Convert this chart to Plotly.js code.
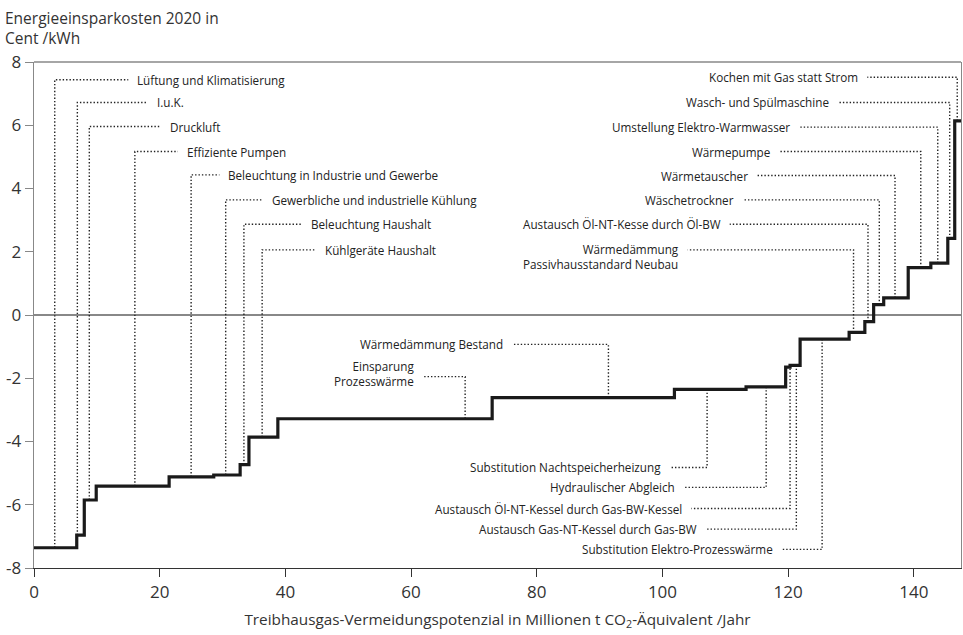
<!DOCTYPE html>
<html>
<head>
<meta charset="utf-8">
<script src="https://cdn.plot.ly/plotly-3.0.1.min.js"></script>
<style>html,body{margin:0;padding:0;background:#fff;}#chart{width:963px;height:635px;}</style>
</head>
<body>
<div id="chart"></div>
<script>
// ---- data: step curve (start of each measure on x, cost on y) ----
const stepStartX = [0, 6.8, 8.0, 9.9, 21.5, 28.6, 32.8, 34.2, 38.8, 72.9, 101.9, 113.3, 119.6, 120.3, 121.9, 129.7, 132.2, 133.6, 135.2, 139.1, 142.7, 145.4, 146.5];
const stepCost   = [-7.36, -6.96, -5.85, -5.41, -5.12, -5.06, -4.73, -3.86, -3.28, -2.61, -2.35, -2.27, -1.65, -1.59, -0.76, -0.55, -0.21, 0.33, 0.54, 1.50, 1.64, 2.42, 6.14];
const stepEndX = 147.5;

// ---- data: measure labels ----
const labelText = [
  "Lüftung und Klimatisierung", "I.u.K.", "Druckluft", "Effiziente Pumpen",
  "Beleuchtung in Industrie und Gewerbe", "Gewerbliche und industrielle Kühlung",
  "Beleuchtung Haushalt", "Kühlgeräte Haushalt",
  "Wärmedämmung Bestand", "Einsparung<br>Prozesswärme",
  "Substitution Nachtspeicherheizung", "Hydraulischer Abgleich",
  "Austausch Öl-NT-Kessel durch Gas-BW-Kessel", "Austausch Gas-NT-Kessel durch Gas-BW",
  "Substitution Elektro-Prozesswärme",
  "Kochen mit Gas statt Strom", "Wasch- und Spülmaschine", "Umstellung Elektro-Warmwasser",
  "Wärmepumpe", "Wärmetauscher", "Wäschetrockner", "Austausch Öl-NT-Kesse durch Öl-BW",
  "Wärmedämmung<br>Passivhausstandard Neubau"
];
const labelMeasureX = [3.3, 6.9, 8.8, 16.05, 25.0, 30.5, 33.4, 36.3, 91.4, 68.6, 107.1, 116.5, 120.3, 121.3, 125.4, 146.9, 145.7, 143.8, 141.1, 137.0, 134.5, 132.7, 130.4];
const labelLevelY   = [7.44, 6.72, 5.96, 5.17, 4.43, 3.64, 2.87, 2.06, -0.93, -1.95, -4.82, -5.45, -6.12, -6.77, -7.41, 7.52, 6.72, 5.94, 5.17, 4.41, 3.64, 2.87, 2.06];
const labelLeaderEndX = [15.0, 18.1, 20.2, 22.9, 29.5, 36.5, 42.6, 44.9, 76.1, 61.9, 101.2, 103.4, 104.6, 107.0, 119.0, 132.6, 127.9, 121.7, 118.5, 115.0, 112.8, 110.7, 104.0];

// ---- tick labels ----
const xTickVals = [0, 20, 40, 60, 80, 100, 120, 140];
const yTickVals = [-8, -6, -4, -2, 0, 2, 4, 6, 8];
const yTickText = ["-8", "-6", "-4", "-2", "0", "2", "4", "6", "8"];

// ---- build ----
const stepX = stepStartX.concat([stepEndX]);
const stepY = stepCost.concat([stepCost[stepCost.length - 1]]);
function costAt(x) {
  let v = stepCost[0];
  for (let i = 0; i < stepStartX.length; i++) { if (x >= stepStartX[i]) v = stepCost[i]; }
  return v;
}
const lx = [], ly = [];
labelText.forEach((t, i) => {
  lx.push(labelMeasureX[i], labelMeasureX[i], labelLeaderEndX[i], null);
  ly.push(costAt(labelMeasureX[i]), labelLevelY[i], labelLevelY[i], null);
});

const labelFont = {family: "'Open Sans',sans-serif", size: 11.7, color: "#222"};
const yShiftTweak = {"Einsparung<br>Prozesswärme": 3, "Wärmedämmung<br>Passivhausstandard Neubau": -7};

const annotations = labelText.map((t, i) => {
  const textRight = labelLeaderEndX[i] > labelMeasureX[i];
  return {
    x: labelLeaderEndX[i], y: labelLevelY[i], xref: "x", yref: "y",
    text: t, showarrow: false,
    xanchor: textRight ? "left" : "right", yanchor: "middle",
    align: textRight ? "left" : "right",
    xshift: textRight ? 7 : -7, yshift: yShiftTweak[t] || 0,
    font: labelFont
  };
});
annotations.push({
  xref: "paper", yref: "paper", x: -0.033, y: 1.112, xanchor: "left", yanchor: "top",
  align: "left", showarrow: false,
  text: "Energieeinsparkosten 2020 in<br>Cent /kWh",
  font: {family: "'Open Sans',sans-serif", size: 15.5, color: "#333"}
});

const traces = [
  {x: lx, y: ly, mode: "lines", line: {color: "#222", width: 1.4, dash: "1.4px,2px"}, hoverinfo: "skip", connectgaps: false},
  {x: stepX, y: stepY, mode: "lines", line: {color: "#1a1a1a", width: 3.2, shape: "hv"}, hoverinfo: "skip"}
];

const layout = {
  width: 963, height: 635,
  margin: {l: 34, r: 2, t: 62, b: 67},
  paper_bgcolor: "#fff", plot_bgcolor: "#fff",
  showlegend: false,
  font: {family: "'Open Sans',sans-serif", color: "#333"},
  xaxis: {
    range: [0, stepEndX], tickvals: xTickVals, ticks: "outside", ticklen: 8, tickcolor: "#333",
    showgrid: false, zeroline: false, showline: true, linecolor: "#333", linewidth: 1.3,
    tickfont: {size: 17, color: "#333"},
    title: {text: "Treibhausgas-Vermeidungspotenzial in Millionen t CO<sub>2</sub>-Äquivalent /Jahr", font: {size: 15.3, color: "#333"}, standoff: 12}
  },
  yaxis: {
    range: [-8, 8], tickvals: yTickVals, ticktext: yTickText, ticks: "outside", ticklen: 8, tickcolor: "#888",
    showgrid: false, zeroline: true, zerolinecolor: "#888", zerolinewidth: 1.3,
    showline: true, linecolor: "#888", linewidth: 1.3, mirror: true,
    tickfont: {size: 17, color: "#333"}
  },
  shapes: [
    {type: "line", xref: "paper", yref: "paper", x0: 0, x1: 1, y0: 1, y1: 1, line: {color: "#888", width: 1.3}}
  ],
  annotations: annotations
};

Plotly.newPlot("chart", traces, layout, {displayModeBar: false, staticPlot: true});
</script>
</body>
</html>
